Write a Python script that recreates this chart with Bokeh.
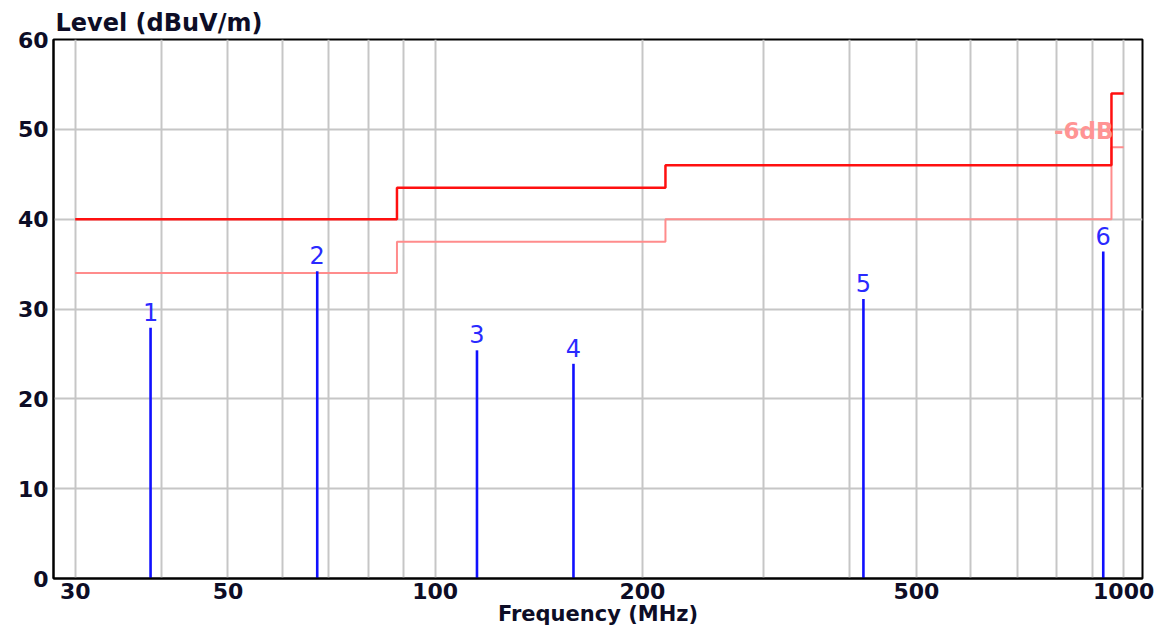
from bokeh.plotting import figure
from bokeh.models import FixedTicker, Range1d, Label, ColumnDataSource
from bokeh.core.properties import value
from bokeh.embed import file_html
from bokeh.resources import INLINE

# ---- data ----
limit_freq = [30, 88, 216, 960, 1000]
limit_level = [40, 43.5, 46, 54, 54]
margin_level = [34, 37.5, 40, 48, 48]

peak_freq = [38.6, 67.4, 115.0, 158.8, 418.8, 934.0]
peak_level = [27.9, 34.2, 25.4, 23.9, 31.1, 36.4]
peak_label = ["1", "2", "3", "4", "5", "6"]

x_tick_values = [30, 50, 100, 200, 500, 1000]
x_grid_values = [30, 40, 50, 60, 70, 80, 90, 100, 200, 300, 400, 500,
                 600, 700, 800, 900, 1000]
y_tick_values = [0, 10, 20, 30, 40, 50, 60]

FONT = "DejaVu Sans"
TXT = "#0d0d26"

p = figure(width=1155, height=628, x_axis_type="log",
           x_range=Range1d(27.9, 1065), y_range=Range1d(0, 60),
           output_backend="svg", toolbar_location=None,
           min_border_left=53, min_border_right=13,
           min_border_top=39, min_border_bottom=47,
           title="Level (dBuV/m)")

p.title.align = "left"
p.title.offset = 2
p.title.standoff = 6
p.title.text_font = FONT
p.title.text_font_style = "bold"
p.title.text_font_size = "24px"
p.title.text_color = TXT

p.outline_line_color = "black"
p.outline_line_width = 2
p.background_fill_color = "white"
p.border_fill_color = "white"

# grid
p.xgrid.ticker = FixedTicker(ticks=x_grid_values)
p.ygrid.ticker = FixedTicker(ticks=y_tick_values)
for g in (p.xgrid, p.ygrid):
    g.grid_line_color = "#c6c6c6"
    g.grid_line_width = 2

# axes
p.xaxis.ticker = FixedTicker(ticks=x_tick_values)
p.yaxis.ticker = FixedTicker(ticks=y_tick_values)
for ax in (p.xaxis, p.yaxis):
    ax.axis_line_color = "black"
    ax.axis_line_width = 2
    ax.major_tick_line_color = None
    ax.minor_tick_line_color = None
    ax.major_tick_out = 0
    ax.major_label_text_font = FONT
    ax.major_label_text_font_style = "bold"
    ax.major_label_text_font_size = "22px"
    ax.major_label_text_color = TXT
p.xaxis.major_label_standoff = 4
p.yaxis.major_label_standoff = 5
p.xaxis.major_label_overrides = {v: str(v) for v in x_tick_values}
p.xaxis.axis_label = "Frequency (MHz)"
p.xaxis.axis_label_standoff = 0
p.xaxis.axis_label_text_font = FONT
p.xaxis.axis_label_text_font_style = "bold"
p.xaxis.axis_label_text_font_size = "21px"
p.xaxis.axis_label_text_color = TXT

# limit lines
p.step(limit_freq, margin_level, mode="after", line_color="#ff8c8c", line_width=2)
p.step(limit_freq, limit_level, mode="after", line_color="#ff1010", line_width=2.5)

# peaks
src = ColumnDataSource(dict(f=peak_freq, lv=peak_level, lab=peak_label,
                            base=[0] * len(peak_freq)))
p.segment(x0="f", y0="base", x1="f", y1="lv", source=src,
          line_color="#1010ff", line_width=2.6)
p.text(x="f", y="lv", text="lab", source=src, text_align="center",
       text_baseline="alphabetic", y_offset=-16,
       text_font=value(FONT), text_font_size="24px", text_color="#2a2aff")

# annotation
p.add_layout(Label(x=960, y=49.8, text="-6dB", text_align="right",
                   text_baseline="middle", x_offset=2,
                   text_font=FONT, text_font_style="bold",
                   text_font_size="23px", text_color="#ff9494"))

open("out.html", "w").write(file_html(p, INLINE))
